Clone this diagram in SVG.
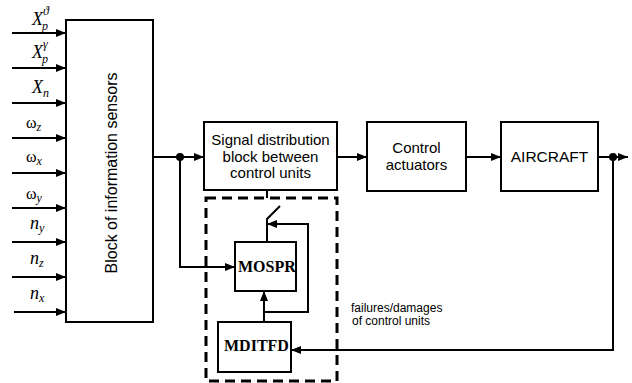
<svg xmlns="http://www.w3.org/2000/svg" width="632" height="383" viewBox="0 0 632 383">
<style>
.box{fill:#fff;stroke:#000;stroke-width:2}
.ln{fill:none;stroke:#000;stroke-width:2}
.arr{marker-end:url(#ah)}
.sans{font-family:"Liberation Sans",Arial,sans-serif;fill:#000}
.bold{font-family:"Liberation Serif","Times New Roman",serif;font-weight:bold;font-size:16px;fill:#000}
.lab{font-family:"Liberation Serif","Times New Roman",serif;font-size:18px;fill:#000}
.om{font-size:16px}
.sub{font-size:12px;font-style:italic}
.it{font-style:italic}
</style>
<defs>
<marker id="ah" viewBox="0 0 10 8" refX="10" refY="4" markerWidth="10" markerHeight="8" markerUnits="userSpaceOnUse" orient="auto">
<path d="M0,0 L10,4 L0,8 z" fill="#000"/>
</marker>
</defs>

<g id="inputs">
<g class="lab">
<text x="32" y="25"><tspan class="it">X</tspan><tspan class="sub" dx="-1" dy="5">p</tspan><tspan class="sub" dx="-5" dy="-15">ϑ</tspan></text>
<text x="32" y="58"><tspan class="it">X</tspan><tspan class="sub" dx="-1" dy="5">p</tspan><tspan class="sub" dx="-5" dy="-15">γ</tspan></text>
<text x="32" y="93"><tspan class="it">X</tspan><tspan class="sub" dx="0" dy="4">n</tspan></text>
<text class="om" x="26" y="128">ω<tspan class="sub" dy="3">z</tspan></text>
<text class="om" x="26" y="162">ω<tspan class="sub" dy="3">x</tspan></text>
<text class="om" x="26" y="199">ω<tspan class="sub" dy="3">y</tspan></text>
<text x="30" y="229"><tspan class="it">n</tspan><tspan class="sub" dy="3">y</tspan></text>
<text x="30" y="264"><tspan class="it">n</tspan><tspan class="sub" dy="3">z</tspan></text>
<text x="30" y="299"><tspan class="it">n</tspan><tspan class="sub" dy="3">x</tspan></text>
</g>
</g>

<g id="sensors">
<rect class="box" x="66" y="20" width="87" height="302"/>
<text class="sans" font-size="16" text-anchor="middle" transform="translate(117,173) rotate(-90)">Block of information sensors</text>
</g>

<g id="signal">
<rect class="box" x="204" y="122" width="133" height="68"/>
<text class="sans" font-size="15" text-anchor="middle"><tspan x="270.5" y="145">Signal distribution</tspan><tspan x="270.5" y="161.5">block between</tspan><tspan x="270.5" y="178">control units</tspan></text>
</g>

<g id="actuators">
<rect class="box" x="367" y="122" width="99" height="69"/>
<text class="sans" font-size="15" text-anchor="middle"><tspan x="416.5" y="153">Control</tspan><tspan x="416.5" y="170">actuators</tspan></text>
</g>

<g id="aircraft">
<rect class="box" x="501" y="122" width="97" height="69"/>
<text class="sans" font-size="15.5" text-anchor="middle" x="549.5" y="162">AIRCRAFT</text>
</g>

<g id="dashedgroup">
<rect x="206" y="198" width="131" height="183" fill="none" stroke="#000" stroke-width="3" stroke-dasharray="10 6"/>
</g>

<g id="mospr">
<rect class="box" x="235" y="242" width="61" height="49"/>
<text class="bold" x="238" y="272">MOSPR</text>
</g>

<g id="mditfd">
<rect class="box" x="218" y="322" width="73" height="50"/>
<text class="bold" x="224" y="351">MDITFD</text>
</g>

<g id="label">
<text class="sans" font-size="12"><tspan x="351" y="312">failures/damages</tspan><tspan x="352" y="325">of control units</tspan></text>
</g>

<g id="connectors">
<line class="ln arr" x1="12" y1="33" x2="66" y2="33"/>
<line class="ln arr" x1="12" y1="68" x2="66" y2="68"/>
<line class="ln arr" x1="12" y1="103" x2="66" y2="103"/>
<line class="ln arr" x1="12" y1="138" x2="66" y2="138"/>
<line class="ln arr" x1="12" y1="173" x2="66" y2="173"/>
<line class="ln arr" x1="12" y1="208" x2="66" y2="208"/>
<line class="ln arr" x1="12" y1="242" x2="66" y2="242"/>
<line class="ln arr" x1="12" y1="277" x2="66" y2="277"/>
<line class="ln arr" x1="14" y1="312" x2="66" y2="312"/>
<line class="ln arr" x1="153" y1="157" x2="204" y2="157"/>
<circle cx="180" cy="157" r="4" fill="#000"/>
<polyline class="ln arr" points="180,157 180,267 235,267"/>
<line class="ln arr" x1="337" y1="157" x2="367" y2="157"/>
<line class="ln arr" x1="466" y1="157" x2="501" y2="157"/>
<line class="ln arr" x1="598" y1="157" x2="628" y2="157"/>
<circle cx="613" cy="157" r="4" fill="#000"/>
<polyline class="ln arr" points="613,157 613,350 291,350"/>
<line class="ln arr" x1="264" y1="322" x2="264" y2="291"/>
<polyline class="ln arr" points="264,312 308,312 308,224 267,224"/>
<polyline class="ln" points="267,242 267,219 280,206"/>
<line class="ln" x1="267" y1="190" x2="267" y2="198"/>
</g>
</svg>
